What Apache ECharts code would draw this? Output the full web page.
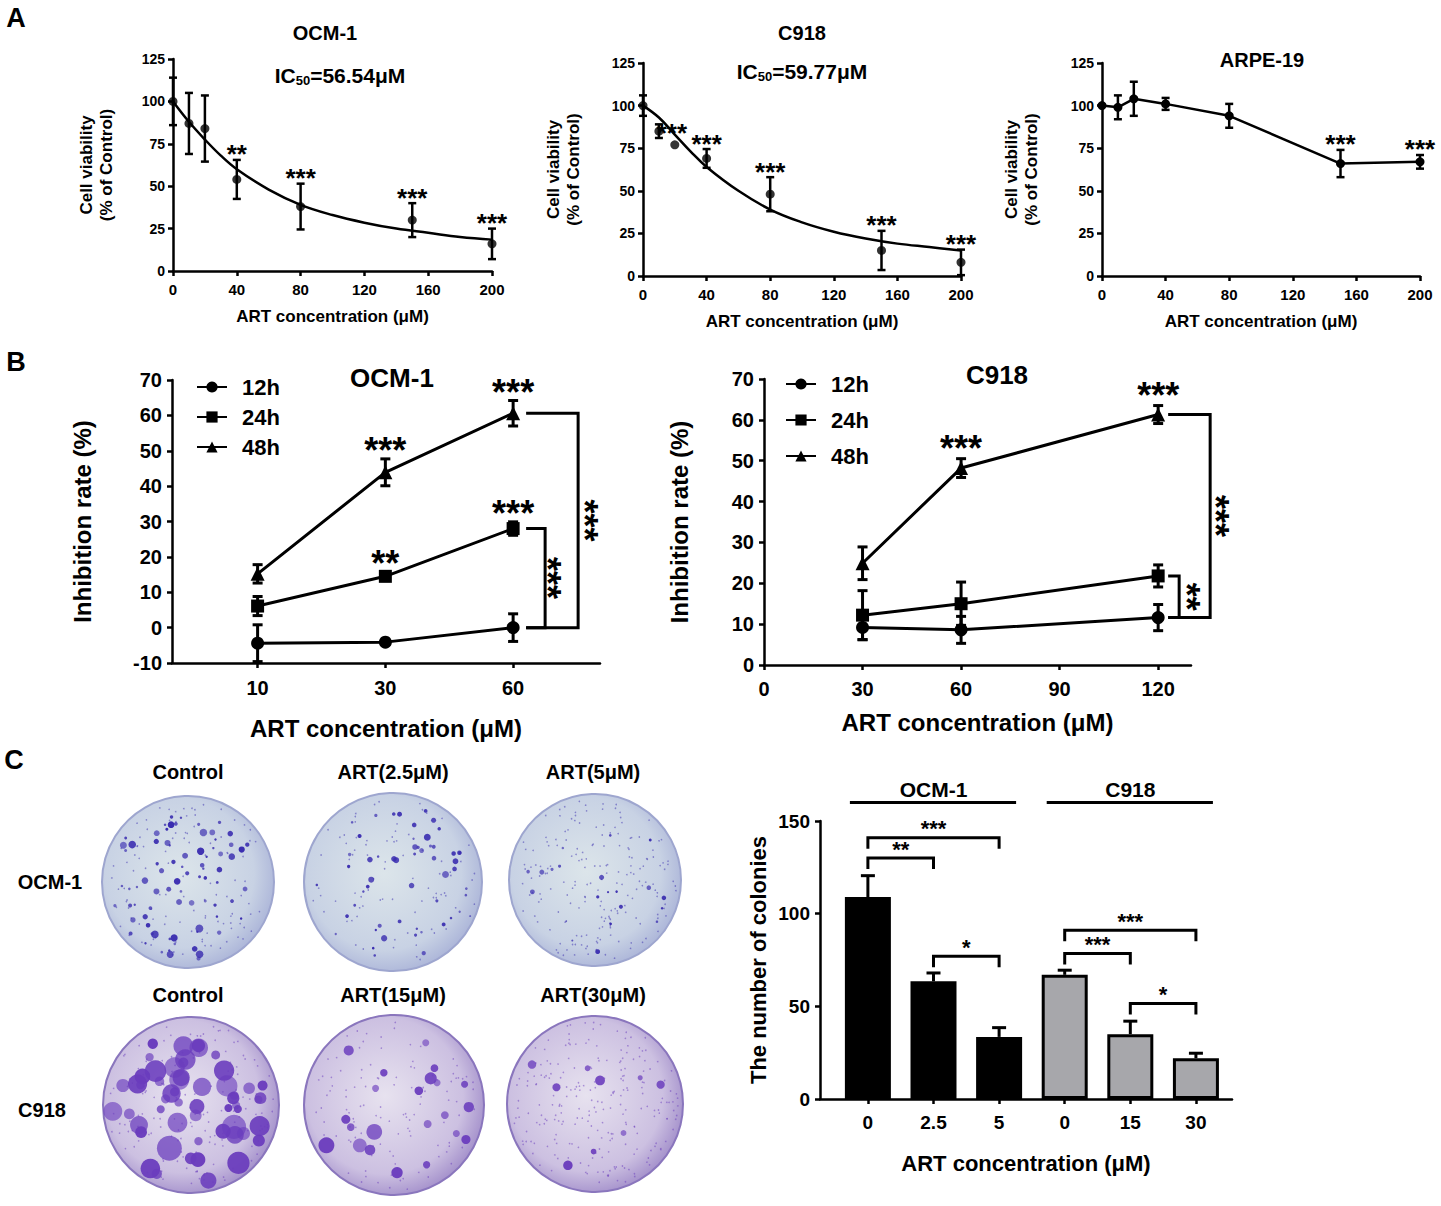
<!DOCTYPE html>
<html>
<head>
<meta charset="utf-8">
<script src="https://cdn.jsdelivr.net/npm/echarts@6/dist/echarts.min.js"></script>
<style>
  html, body { margin: 0; padding: 0; background: #fff; }
  #main { width: 1441px; height: 1206px; }
</style>
</head>
<body>
<div id="main"></div>
<script>
// ---- Panel A: cell viability (% of control) vs ART dose ----
const doseA = [0, 10, 20, 40, 80, 150, 200];
const ocmViab = [100, 87, 84, 54, 38, 30, 16];
const ocmViabSd = [14, 18, 19.5, 11.5, 13.5, 10, 9];
const ocmViabStars = ['', '', '', '**', '***', '***', '***'];
const ocmFitDose = [0, 10, 20, 30, 40, 60, 80, 100, 120, 140, 160, 180, 200];
const ocmFitViab = [100, 88, 77.5, 68, 60, 48, 39, 33, 28.5, 25, 22.5, 20, 18.5];

const c918Viab = [100, 85, 77, 69, 48, 15, 8];
const c918ViabSd = [6, 4, 0, 5.5, 10, 11.5, 7.5];
const c918ViabStars = ['', '***', '', '***', '***', '***', '***'];
const c918FitDose = [0, 10, 20, 30, 40, 60, 80, 100, 120, 140, 160, 180, 200];
const c918FitViab = [100, 93, 83, 73, 64, 50, 39, 31.5, 26, 22, 19, 17, 15];

const arpeViab = [100, 99, 104, 101, 94, 66, 67];
const arpeViabSd = [0, 7, 10, 3.5, 7, 8, 4];
const arpeViabStars = ['', '', '', '', '', '***', '***'];

// ---- Panel B: inhibition rate (%) ----
const timeNames = ['12h', '24h', '48h'];
const ocmDoseB = ['10', '30', '60'];
const ocmInhib12 = [-4.4, -4.1, 0];
const ocmInhib12Sd = [5.2, 0.5, 3.9];
const ocmInhib24 = [6.1, 14.5, 28];
const ocmInhib24Sd = [2.7, 1.2, 1.9];
const ocmInhib48 = [15.2, 43.9, 60.6];
const ocmInhib48Sd = [2.6, 3.8, 3.6];
const ocmInhibStars24 = ['', '**', '***'];
const ocmInhibStars48 = ['', '***', '***'];

const c918DoseB = [30, 60, 120];
const c918Inhib12 = [9.2, 8.6, 11.6];
const c918Inhib12Sd = [3, 3.3, 3.2];
const c918Inhib24 = [12.2, 15, 21.8];
const c918Inhib24Sd = [6, 5.3, 2.7];
const c918Inhib48 = [24.9, 48.2, 61.3];
const c918Inhib48Sd = [4, 2.3, 2.2];
const c918InhibStars48 = ['', '***', '***'];

// ---- Panel C: colony counts ----
const colonyDose = ['0', '2.5', '5', '0', '15', '30'];
const colonyCell = ['OCM-1', 'OCM-1', 'OCM-1', 'C918', 'C918', 'C918'];
const colonyCount = [109, 63.5, 33.5, 67, 35, 22];
const colonyErr = [11.5, 4.5, 5, 2.5, 7, 2.7];
const colonyPairs = [[0, 1, '**'], [0, 2, '***'], [1, 2, '*'], [3, 4, '***'], [3, 5, '***'], [4, 5, '*']];
const colonyPairLevel = [130, 141, 77, 78.5, 91, 51.5];
const dishTitlesTop = ['Control', 'ART(2.5μM)', 'ART(5μM)'];
const dishTitlesBottom = ['Control', 'ART(15μM)', 'ART(30μM)'];

const FONT = '"Liberation Sans", Arial, Helvetica, sans-serif';
const txt = (size, extra) => Object.assign({ color: '#000', fontSize: size, fontWeight: 'bold', fontFamily: FONT }, extra || {});

const chart = echarts.init(document.getElementById('main'), null, { renderer: 'svg' });

function axis(gi, opt) {
  const o = {
    type: 'value', gridIndex: gi, nameLocation: 'middle',
    axisLine: { show: true, onZero: false, lineStyle: { color: '#000', width: 2.5 } },
    axisTick: { show: true, length: 5, lineStyle: { color: '#000', width: 2.5 } },
    axisLabel: Object.assign({ margin: opt.margin }, txt(opt.fs)),
    splitLine: { show: false },
    name: opt.name, nameGap: opt.gap, nameTextStyle: txt(opt.nfs, { lineHeight: opt.nfs + 3 }),
    min: opt.min, max: opt.max
  };
  if (opt.interval) o.interval = opt.interval;
  if (opt.ticks) {
    o.axisTick.customValues = opt.ticks;
    o.axisLabel.customValues = opt.ticks;
  }
  if (opt.fmt) o.axisLabel.formatter = opt.fmt;
  return o;
}

// vertical error bar: data [x, lo, hi]
function errBar(cap, lw, oneSided) {
  return function (params, api) {
    const lo = api.value(1), hi = api.value(2);
    if (hi === lo) return null;
    const a = api.coord([api.value(0), lo]);
    const b = api.coord([api.value(0), hi]);
    const s = { stroke: '#000', lineWidth: lw };
    const kids = [
      { type: 'line', shape: { x1: a[0], y1: a[1], x2: b[0], y2: b[1] }, style: s },
      { type: 'line', shape: { x1: b[0] - cap, y1: b[1], x2: b[0] + cap, y2: b[1] }, style: s }
    ];
    if (!oneSided) kids.push({ type: 'line', shape: { x1: a[0] - cap, y1: a[1], x2: a[0] + cap, y2: a[1] }, style: s });
    return { type: 'group', children: kids };
  };
}

// star labels: data [x, y], text looked up by index; nudge = {index: [dx, dy]}
function starText(labels, fs, dy, nudge) {
  return function (params, api) {
    const t = labels[params.dataIndex];
    if (!t) return null;
    const p = api.coord([api.value(0), api.value(1)]);
    const n = (nudge && nudge[params.dataIndex]) || [0, 0];
    return { type: 'text', x: p[0] + n[0], y: p[1] + dy + n[1],
      style: { text: t, fill: '#000', fontSize: fs, fontWeight: 'bold', fontFamily: FONT, align: 'center', verticalAlign: 'middle' } };
  };
}

function custom(gi, data, renderItem, z) {
  return { type: 'custom', xAxisIndex: gi, yAxisIndex: gi, data: data, renderItem: renderItem, z: z || 3, silent: true };
}

function errData(xs, ys, sds) {
  return xs.map((x, i) => [x, ys[i] - sds[i], ys[i] + sds[i]]);
}
function starData(xs, ys, sds, gap) {
  return xs.map((x, i) => [x, ys[i] + sds[i] + gap]);
}

const series = [];

// Panel A
const panelA = [
  { gi: 0, y: ocmViab, sd: ocmViabSd, stars: ocmViabStars, fitX: ocmFitDose, fitY: ocmFitViab },
  { gi: 1, y: c918Viab, sd: c918ViabSd, stars: c918ViabStars, fitX: c918FitDose, fitY: c918FitViab, nudge: { 1: [13, 14] } },
  { gi: 2, y: arpeViab, sd: arpeViabSd, stars: arpeViabStars }
];
panelA.forEach(p => {
  if (p.fitX) {
    series.push({ type: 'line', xAxisIndex: p.gi, yAxisIndex: p.gi, smooth: 0.4, symbol: 'none',
      lineStyle: { color: '#000', width: 2.5 }, data: p.fitX.map((x, i) => [x, p.fitY[i]]), z: 2 });
    series.push({ type: 'scatter', xAxisIndex: p.gi, yAxisIndex: p.gi, symbol: 'circle', symbolSize: 9,
      itemStyle: { color: '#000' }, data: doseA.map((x, i) => [x, p.y[i]]), z: 4 });
  } else {
    series.push({ type: 'line', xAxisIndex: p.gi, yAxisIndex: p.gi, symbol: 'circle', symbolSize: 9,
      lineStyle: { color: '#000', width: 2.5 }, itemStyle: { color: '#000' },
      data: doseA.map((x, i) => [x, p.y[i]]), z: 4 });
  }
  series.push(custom(p.gi, errData(doseA, p.y, p.sd), errBar(4, 2.5, false)));
  series.push(custom(p.gi, starData(doseA, p.y, p.sd, 5), starText(p.stars, 26, 3, p.nudge)));
});

// Panel B
const symbols = ['circle', 'rect', 'triangle'];
const symSizes = [13, 13, 14];
function panelB(gi, xs, groups, starSets) {
  groups.forEach((g, k) => {
    series.push({ type: 'line', name: timeNames[k], xAxisIndex: gi, yAxisIndex: gi,
      symbol: symbols[k], symbolSize: symSizes[k],
      lineStyle: { color: '#000', width: 3 }, itemStyle: { color: '#000' },
      data: xs.map((x, i) => [x, g.y[i]]), z: 4 });
    series.push(custom(gi, errData(xs, g.y, g.sd), errBar(5, 3, false)));
    if (starSets[k]) series.push(custom(gi, starData(xs, g.y, g.sd, 3.5), starText(starSets[k], 36, 4)));
  });
}
const ocmPos = [1, 2, 3];
panelB(3, ocmPos, [
  { y: ocmInhib12, sd: ocmInhib12Sd }, { y: ocmInhib24, sd: ocmInhib24Sd }, { y: ocmInhib48, sd: ocmInhib48Sd }
], [null, ocmInhibStars24, ocmInhibStars48]);
panelB(4, c918DoseB, [
  { y: c918Inhib12, sd: c918Inhib12Sd }, { y: c918Inhib24, sd: c918Inhib24Sd }, { y: c918Inhib48, sd: c918Inhib48Sd }
], [null, null, c918InhibStars48]);

// bracket between last points of two time groups: data [x, top, bottom]
function bBracket(x0off, xvoff, staroff, label, fs) {
  return function (params, api) {
    const t = api.coord([api.value(0), api.value(1)]);
    const b = api.coord([api.value(0), api.value(2)]);
    const x0 = t[0] + x0off, xv = t[0] + xvoff;
    return { type: 'group', children: [
      { type: 'polyline', shape: { points: [[x0, t[1]], [xv, t[1]], [xv, b[1]], [x0, b[1]]] },
        style: { stroke: '#000', lineWidth: 3, fill: null } },
      { type: 'text', x: t[0] + staroff, y: (t[1] + b[1]) / 2, rotation: -Math.PI / 2,
        style: { text: label, fill: '#000', fontSize: fs, fontWeight: 'bold', fontFamily: FONT, align: 'center', verticalAlign: 'middle' } }
    ] };
  };
}
series.push(custom(3, [[3, ocmInhib24[2], ocmInhib12[2]]], bBracket(13, 32, 34, '***', 36)));
series.push(custom(3, [[3, ocmInhib48[2], ocmInhib12[2]]], bBracket(13, 65, 71, '***', 36)));
series.push(custom(4, [[120, c918Inhib24[2], c918Inhib12[2]]], bBracket(10, 21, 28, '**', 36)));
series.push(custom(4, [[120, c918Inhib48[2], c918Inhib12[2]]], bBracket(10, 52, 57, '***', 36)));

// Panel C bars
const barPos = colonyDose.map((d, i) => i);
series.push({ type: 'bar', xAxisIndex: 5, yAxisIndex: 5, barWidth: 46, z: 2,
  data: barPos.map((x, i) => ({ value: [x, colonyCount[i]],
    itemStyle: colonyCell[i] === 'OCM-1'
      ? { color: '#000', borderColor: '#000', borderWidth: 0 }
      : { color: '#a7a7ab', borderColor: '#000', borderWidth: 3 } })) });
series.push(custom(5, barPos.map((x, i) => [x, colonyCount[i], colonyCount[i] + colonyErr[i]]), errBar(7, 3, true)));
series.push(custom(5, colonyPairs.map((p, i) => [p[0], p[1], colonyPairLevel[i]]), function (params, api) {
  const a = api.coord([api.value(0), api.value(2)]);
  const b = api.coord([api.value(1), api.value(2)]);
  const drop = 11;
  return { type: 'group', children: [
    { type: 'polyline', shape: { points: [[a[0], a[1] + drop], [a[0], a[1]], [b[0], b[1]], [b[0], b[1] + drop]] },
      style: { stroke: '#000', lineWidth: 3, fill: null } },
    { type: 'text', x: (a[0] + b[0]) / 2, y: a[1] + 2,
      style: { text: colonyPairs[params.dataIndex][2], fill: '#000', fontSize: 22, fontWeight: 'bold', fontFamily: FONT, align: 'center', verticalAlign: 'bottom' } }
  ] };
}));
// cell-line group bars above the plot
const cellGroups = [['OCM-1', 0, 2], ['C918', 3, 5]];
series.push(custom(5, cellGroups.map(g => [g[1], g[2], 160]), function (params, api) {
  const a = api.coord([api.value(0), api.value(2)]);
  const b = api.coord([api.value(1), api.value(2)]);
  return { type: 'group', children: [
    { type: 'line', shape: { x1: a[0] - 18, y1: a[1], x2: b[0] + 17, y2: b[1] }, style: { stroke: '#000', lineWidth: 3 } },
    { type: 'text', x: (a[0] + b[0]) / 2, y: a[1] - 13,
      style: { text: cellGroups[params.dataIndex][0], fill: '#000', fontSize: 21, fontWeight: 'bold', fontFamily: FONT, align: 'center', verticalAlign: 'middle' } }
  ] };
}));

// ---- decorative colony dishes (photos in the original) ----
function frac(v) { return v - Math.floor(v); }
function h(i, s, k) { return frac(Math.sin(i * 127.1 + s * 311.7 + k * 74.7) * 43758.5453); }
const dishes = [
  { cx: 188, cy: 882, r: 86, kind: 0, n: 80, sMin: 1.2, sMax: 4, fine: 140, seed: 1 },
  { cx: 393, cy: 882, r: 89, kind: 0, n: 55, sMin: 1.2, sMax: 3.5, fine: 110, seed: 2 },
  { cx: 595, cy: 880, r: 86, kind: 0, n: 20, sMin: 1, sMax: 2.6, fine: 280, seed: 3 },
  { cx: 191, cy: 1105, r: 88, kind: 1, n: 55, sMin: 4, sMax: 13, fine: 240, seed: 4 },
  { cx: 394, cy: 1105, r: 90, kind: 1, n: 22, sMin: 3.5, sMax: 8, fine: 170, seed: 5 },
  { cx: 595, cy: 1104, r: 88, kind: 1, n: 9, sMin: 2.5, sMax: 5, fine: 340, seed: 6 }
];
const dishFill = [
  [[0, '#dce5ea'], [0.7, '#c8d2e4'], [1, '#a3acd5']],
  [[0, '#e7e2ef'], [0.7, '#ccc0e1'], [1, '#9781c4']]
];
const spotColor = ['#3a2db0', '#6a3cbd'];
const graphics = [];
dishes.forEach(d => {
  graphics.push({ type: 'circle', shape: { cx: d.cx, cy: d.cy, r: d.r },
    style: { fill: new echarts.graphic.RadialGradient(0.45, 0.45, 0.62, dishFill[d.kind].map(c => ({ offset: c[0], color: c[1] }))),
      stroke: d.kind ? '#8a76bd' : '#9ea6cf', lineWidth: 2 } });
  for (let i = 0; i < d.fine; i++) {
    const rr = d.r * 0.95 * Math.sqrt(h(i, d.seed, 11)), th = 2 * Math.PI * h(i, d.seed, 12);
    graphics.push({ type: 'circle', shape: { cx: d.cx + rr * Math.cos(th), cy: d.cy + rr * Math.sin(th), r: 0.8 },
      style: { fill: spotColor[d.kind], opacity: 0.5 } });
  }
  for (let i = 0; i < d.n; i++) {
    const rr = d.r * 0.9 * Math.sqrt(h(i, d.seed, 1)), th = 2 * Math.PI * h(i, d.seed, 2);
    const s = d.sMin + (d.sMax - d.sMin) * Math.pow(h(i, d.seed, 3), 2);
    graphics.push({ type: 'circle', shape: { cx: d.cx + rr * Math.cos(th), cy: d.cy + rr * Math.sin(th), r: s },
      style: { fill: spotColor[d.kind], opacity: 0.6 + 0.4 * h(i, d.seed, 4) } });
  }
});

function label(x, y, text, size, align) {
  return { type: 'text', x: x, y: y, z: 10,
    style: { text: text, fill: '#000', fontSize: size, fontWeight: 'bold', fontFamily: FONT, align: align || 'center', verticalAlign: 'middle' } };
}
function ic50(x, y, val) {
  return { type: 'text', x: x, y: y, style: { text: 'IC{s|50}=' + val + 'μM', fill: '#000', fontSize: 21, fontWeight: 'bold', fontFamily: FONT,
    align: 'center', verticalAlign: 'middle', rich: { s: { fontSize: 13, fontWeight: 'bold', fontFamily: FONT, fill: '#000', padding: [11, 0, 0, 0] } } } };
}
graphics.push(label(16, 18, 'A', 27), label(16, 362, 'B', 27), label(14, 760, 'C', 27));
graphics.push(label(325, 33, 'OCM-1', 20), label(802, 33, 'C918', 20), label(1262, 60, 'ARPE-19', 20));
graphics.push(ic50(340, 75, '56.54'), ic50(802, 71, '59.77'));
graphics.push(label(392, 378, 'OCM-1', 26), label(997, 375, 'C918', 26));
[188, 393, 593].forEach((x, i) => {
  graphics.push(label(x, 772, dishTitlesTop[i], 20), label(x, 995, dishTitlesBottom[i], 20));
});
graphics.push(label(50, 882, 'OCM-1', 20), label(42, 1110, 'C918', 20));

const legendBase = { orient: 'vertical', itemWidth: 30, itemHeight: 14, data: timeNames,
  textStyle: txt(22, { padding: [0, 0, 0, 10] }), selectedMode: false };

chart.setOption({
  animation: false,
  color: ['#000'],
  grid: [
    { left: 173, top: 59, width: 319, height: 212 },
    { left: 643, top: 63, width: 318, height: 213 },
    { left: 1102, top: 63, width: 318, height: 213 },
    { left: 172, top: 380, width: 428, height: 283 },
    { left: 764, top: 379, width: 427, height: 286 },
    { left: 820, top: 821, width: 412, height: 278 }
  ],
  legend: [
    Object.assign({ left: 191, top: 371, itemGap: 8 }, legendBase),
    Object.assign({ left: 780, top: 368, itemGap: 14 }, legendBase)
  ],
  xAxis: [
    axis(0, { min: 0, max: 200, interval: 40, fs: 15, margin: 11, name: 'ART concentration (μM)', gap: 35, nfs: 17 }),
    axis(1, { min: 0, max: 200, interval: 40, fs: 15, margin: 11, name: 'ART concentration (μM)', gap: 35, nfs: 17 }),
    axis(2, { min: 0, max: 200, interval: 40, fs: 15, margin: 11, name: 'ART concentration (μM)', gap: 35, nfs: 17 }),
    axis(3, { min: 0.33, max: 3.68, ticks: ocmPos, fmt: v => ocmDoseB[Math.round(v) - 1], fs: 20, margin: 15,
      name: 'ART concentration (μM)', gap: 52, nfs: 24 }),
    axis(4, { min: 0, max: 130, ticks: [0, 30, 60, 90, 120], fs: 20, margin: 14,
      name: 'ART concentration (μM)', gap: 44, nfs: 24 }),
    axis(5, { min: -0.73, max: 5.55, ticks: barPos, fmt: v => colonyDose[Math.round(v)], fs: 19, margin: 14,
      name: 'ART concentration (μM)', gap: 52, nfs: 22 })
  ],
  yAxis: [
    axis(0, { min: 0, max: 125, interval: 25, fs: 14, margin: 8, name: 'Cell viability\n(% of Control)', gap: 57, nfs: 17 }),
    axis(1, { min: 0, max: 125, interval: 25, fs: 14, margin: 8, name: 'Cell viability\n(% of Control)', gap: 60, nfs: 17 }),
    axis(2, { min: 0, max: 125, interval: 25, fs: 14, margin: 8, name: 'Cell viability\n(% of Control)', gap: 61, nfs: 17 }),
    axis(3, { min: -10, max: 70, interval: 10, fs: 20, margin: 10, name: 'Inhibition rate (%)', gap: 76, nfs: 24 }),
    axis(4, { min: 0, max: 70, interval: 10, fs: 20, margin: 10, name: 'Inhibition rate (%)', gap: 71, nfs: 24 }),
    axis(5, { min: 0, max: 150, interval: 50, fs: 19, margin: 10, name: 'The number of colonies', gap: 49, nfs: 22 })
  ],
  graphic: graphics,
  series: series
});
</script>
</body>
</html>
